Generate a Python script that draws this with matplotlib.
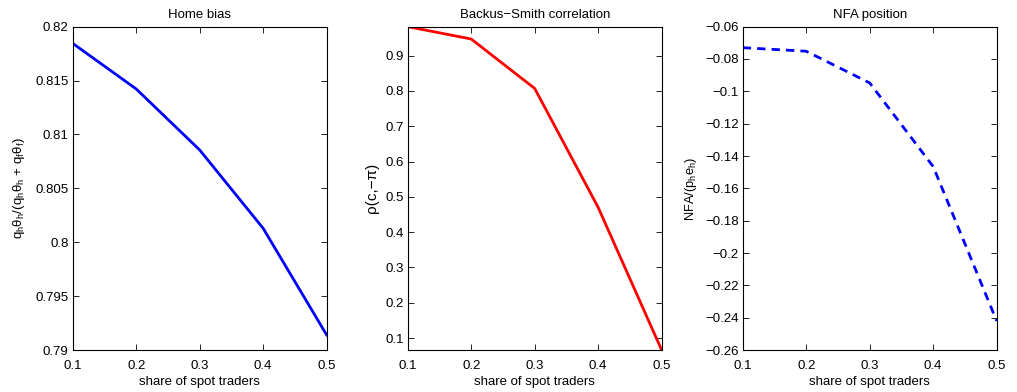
import numpy as np
import matplotlib
matplotlib.use("Agg")
import matplotlib.pyplot as plt
from matplotlib.ticker import FuncFormatter

plt.rcParams["font.family"] = ["Liberation Sans", "DejaVu Sans"]
plt.rcParams["mathtext.fontset"] = "custom"
plt.rcParams["mathtext.rm"] = "Liberation Sans"
plt.rcParams["mathtext.it"] = "Liberation Sans"
plt.rcParams["font.size"] = 9

# share of spot traders
share = [0.1, 0.2, 0.3, 0.4, 0.5]

# model outcomes
home_bias = [0.81845, 0.81422, 0.80856, 0.80129, 0.7914]
bs_corr = [0.982, 0.947, 0.807, 0.470, 0.066]
nfa = [-0.0730, -0.0752, -0.0948, -0.1465, -0.2420]

# matlab-style tick labels: short form, real minus sign
gfmt = FuncFormatter(lambda v, p: ("%g" % v).replace("-", "\u2212"))

fig = plt.figure(figsize=(10.17, 3.92), dpi=100)
lefts = [0.0715, 0.4009, 0.7303]
axes = [fig.add_axes([l, 0.107, 0.2497, 0.825]) for l in lefts]

ax = axes[0]
ax.plot(share, home_bias, color="#0000ff", lw=2)
ax.set_ylim(0.79, 0.82)
ax.set_yticks(np.arange(0.79, 0.8201, 0.005))
ax.set_title("Home bias", fontsize=9.5, pad=6)
ax.set_ylabel(r"q$_h$θ$_h$/(q$_h$θ$_h$ + q$_f$θ$_f$)", fontsize=9.5, labelpad=6)

ax = axes[1]
ax.plot(share, bs_corr, color="#ff0000", lw=2)
ax.set_ylim(min(bs_corr), max(bs_corr))
ax.set_yticks(np.arange(0.1, 0.95, 0.1))
ax.set_title("Backus\u2212Smith correlation", fontsize=9.5, pad=6)
ax.set_ylabel("ρ(c,\u2212π)", fontsize=11)

ax = axes[2]
ax.plot(share, nfa, color="#0000ff", lw=2, ls=(0, (3, 2.2)))
ax.set_ylim(-0.26, -0.06)
ax.set_yticks(np.arange(-0.26, -0.0599, 0.02))
ax.set_title("NFA position", fontsize=9.5, pad=6)
ax.set_ylabel(r"NFA/(p$_h$e$_h$)", fontsize=9.3)

for ax in axes:
    ax.set_xlim(0.1, 0.5)
    ax.set_xticks(share)
    ax.xaxis.set_major_formatter(gfmt)
    ax.yaxis.set_major_formatter(gfmt)
    ax.set_xlabel("share of spot traders", fontsize=9.5, labelpad=3)
    ax.tick_params(direction="in", top=True, right=True, length=4, width=0.6,
                   labelsize=9.5, pad=3)
    ax.tick_params(axis="x", pad=7)
    for s in ax.spines.values():
        s.set_linewidth(0.8)

fig.savefig("out.png", dpi=100)
